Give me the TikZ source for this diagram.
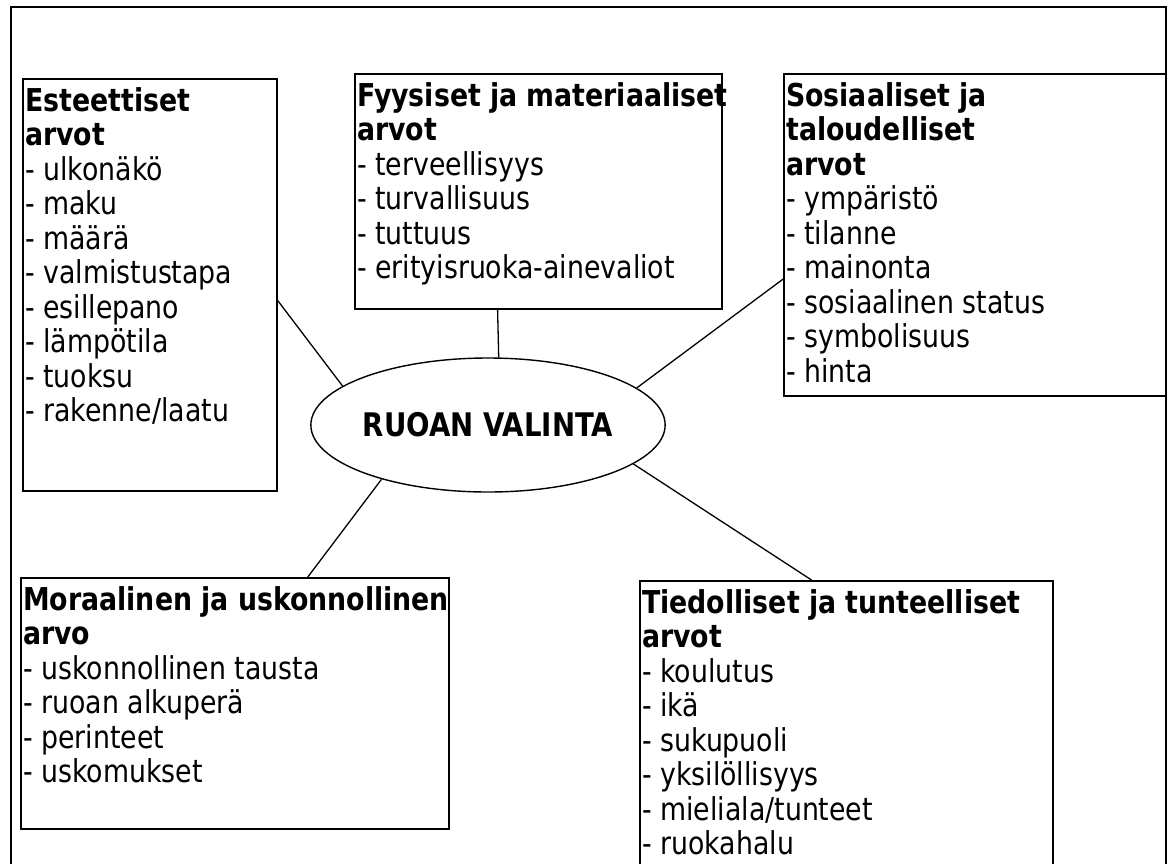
\documentclass[tikz,border=0pt]{standalone}
\usepackage{fontspec}
\setmainfont{DejaVu Sans}[FakeStretch=0.85]
\usetikzlibrary{shapes.geometric}

\tikzset{
    arvobox/.style={draw, line width=1.7pt, inner sep=0pt, anchor=north west},
    arvoteksti/.style={anchor=north west, align=left, inner xsep=3pt, inner ysep=9pt, font=\fontsize{31.5}{34.5}\selectfont},
    yhteys/.style={line width=1.3pt}
}

\begin{document}
\begin{tikzpicture}[x=1pt, y=-1pt]

        % Define the picture area and the outer frame
        \clip (0,0) rectangle (1170,863);
        \draw[line width=2.6pt] (11,7) rectangle (1166,900);

        % Centre ellipse
        \node[ellipse, draw, line width=1.4pt, minimum width=332pt, minimum height=134pt, inner sep=0pt, font=\bfseries\fontsize{32.5}{34}\selectfont] (valinta) at (488,425) {RUOAN VALINTA};

        % Boxes round the ellipse
        \node[arvobox, minimum width=254pt, minimum height=412pt] (este) at (22,78) {};
        \node[arvoteksti] (esteT) at (este.north west) {\textbf{Esteettiset}\\\textbf{arvot}\\- ulkonäkö\\- maku\\- määrä\\- valmistustapa\\- esillepano\\- lämpötila\\- tuoksu\\- rakenne/laatu};

        \node[arvobox, minimum width=367pt, minimum height=235pt] (fyys) at (354,73) {};
        \node[arvoteksti] (fyysT) at (fyys.north west) {\textbf{Fyysiset ja materiaaliset}\\\textbf{arvot}\\- terveellisyys\\- turvallisuus\\- tuttuus\\- erityisruoka-ainevaliot};

        \node[arvobox, minimum width=382pt, minimum height=322pt] (sos) at (783,73) {};
        \node[arvoteksti] (sosT) at (sos.north west) {\textbf{Sosiaaliset ja}\\\textbf{taloudelliset}\\\textbf{arvot}\\- ympäristö\\- tilanne\\- mainonta\\- sosiaalinen status\\- symbolisuus\\- hinta};

        \node[arvobox, minimum width=428pt, minimum height=251pt] (mor) at (20,577) {};
        \node[arvoteksti] (morT) at (mor.north west) {\textbf{Moraalinen ja uskonnollinen}\\\textbf{arvo}\\- uskonnollinen tausta\\- ruoan alkuperä\\- perinteet\\- uskomukset};

        \node[arvobox, minimum width=413pt, minimum height=300pt] (tied) at (639,580) {};
        \node[arvoteksti] (tiedT) at (tied.north west) {\textbf{Tiedolliset ja tunteelliset}\\\textbf{arvot}\\- koulutus\\- ikä\\- sukupuoli\\- yksilöllisyys\\- mieliala/tunteet\\- ruokahalu};

        % Loop to draw the links from each box to the ellipse
        \foreach \b/\a/\e in {este/-7/165, fyys/251/81, sos/193/14, mor/60/207, tied/103/345} {
            \draw[yhteys] (\b.\a) -- (valinta.\e);
        }

\end{tikzpicture}
\end{document}
